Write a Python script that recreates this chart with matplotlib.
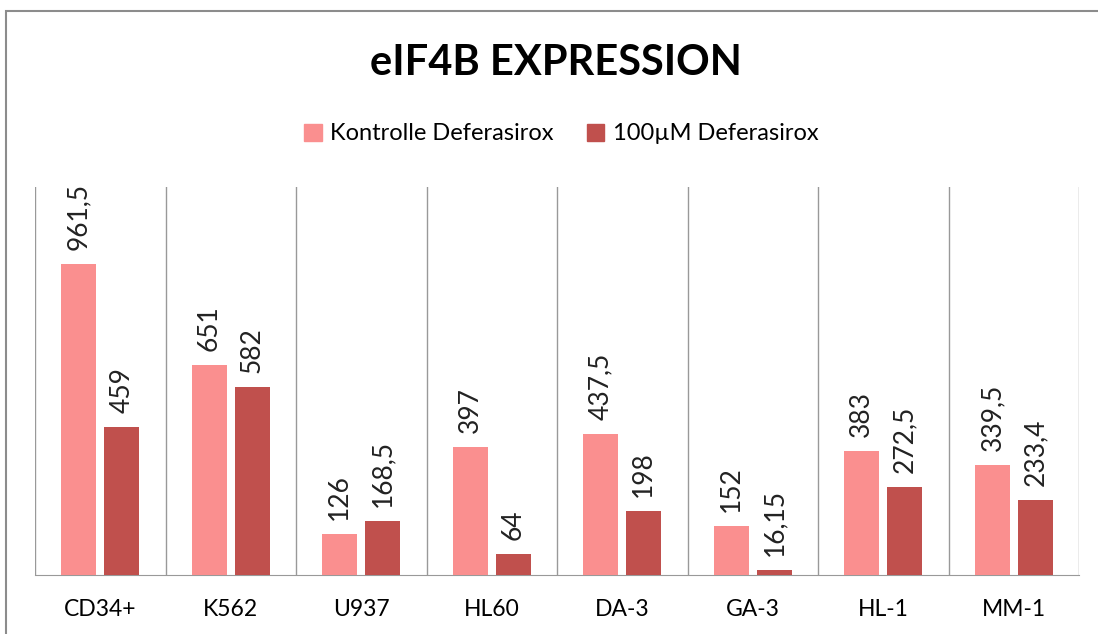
import numpy as np
import matplotlib.pyplot as plt
from matplotlib.patches import Patch, Rectangle

plt.rcParams['font.family'] = ['Lato', 'DejaVu Sans']

# Daten
zelllinien = ['CD34+', 'K562', 'U937', 'HL60', 'DA-3', 'GA-3', 'HL-1', 'MM-1']
kontrolle = [961.5, 651, 126, 397, 437.5, 152, 383, 339.5]
deferasirox = [459, 582, 168.5, 64, 198, 16.15, 272.5, 233.4]
serien = ['Kontrolle Deferasirox', '100µM Deferasirox']
farben = ['#FA8F8F', '#C0504D']

def fmt(v):
    return f'{v:g}'.replace('.', ',')

fig = plt.figure(figsize=(10.98, 6.34), dpi=100)
ax = fig.add_axes([35 / 1098, 1 - 575 / 634, (1079 - 35) / 1098, (575 - 187) / 634])

x = np.arange(len(zelllinien))
breite = 0.268
versatz = 0.165
b1 = ax.bar(x - versatz, kontrolle, breite, color=farben[0], zorder=3)
b2 = ax.bar(x + versatz, deferasirox, breite, color=farben[1], zorder=3)

for bars, werte in [(b1, kontrolle), (b2, deferasirox)]:
    for b, v in zip(bars, werte):
        ax.annotate(fmt(v), (b.get_x() + b.get_width() / 2, v),
                    xytext=(0, 10), textcoords='offset points',
                    rotation=90, ha='center', va='bottom', fontsize=19, color='#222222')

ax.set_xlim(-0.5, len(zelllinien) - 0.5)
ax.set_ylim(0, 1200)
ax.set_xticks(x)
ax.set_xticklabels(zelllinien, fontsize=16.5)
ax.tick_params(axis='x', length=0, pad=17)
ax.set_yticks([])
for s in ['top', 'right', 'left']:
    ax.spines[s].set_visible(False)
ax.spines['bottom'].set_color('#999999')
# Trennlinien zwischen den Kategorien
for g in np.arange(-0.5, len(zelllinien), 1):
    ax.axvline(g, color='#999999', lw=1, zorder=1)

fig.text(0.506, 1 - 63 / 634, 'eIF4B EXPRESSION', ha='center', va='center',
         fontsize=30, fontweight='bold')

handles = [Patch(color=c) for c in farben]
fig.legend(handles, serien, loc='center', bbox_to_anchor=(0.511, 1 - 134 / 634),
           ncol=2, frameon=False, fontsize=17, handlelength=0.75, handleheight=0.75,
           handletextpad=0.35, columnspacing=1.4)

fig.patches.append(Rectangle((6 / 1098, -0.05), 1.1, 1 - 11 / 634 + 0.05,
                             transform=fig.transFigure, fill=False,
                             edgecolor='#8C8C8C', lw=1.5))

fig.savefig('out.png', dpi=100)
